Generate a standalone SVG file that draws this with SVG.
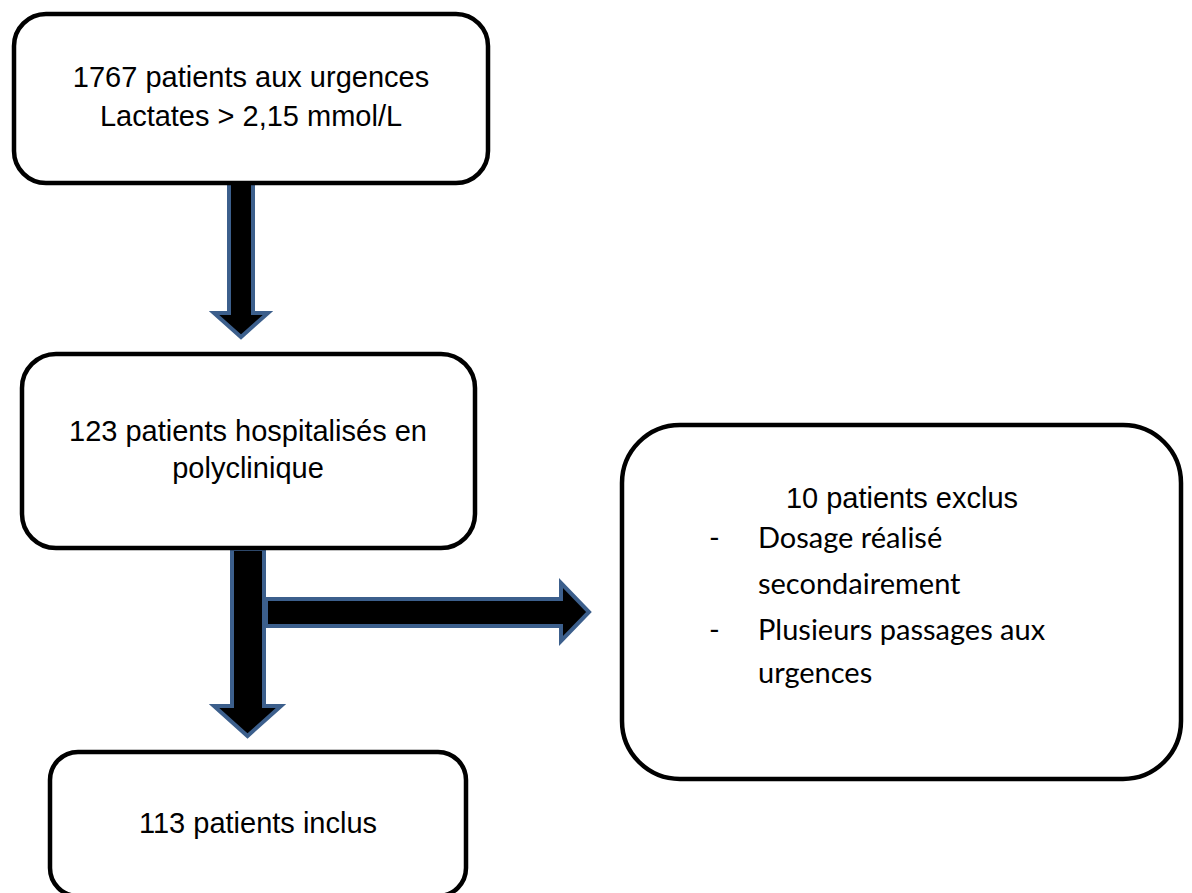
<svg xmlns="http://www.w3.org/2000/svg" width="1192" height="893" viewBox="0 0 1192 893">
<style>
.box{fill:#fff;stroke:#000;stroke-width:4.5}
.arr{fill:#000;stroke:#3C5F8C;stroke-width:4;stroke-linejoin:miter}
.t{font-family:"Liberation Sans",Arial,sans-serif;font-size:29px;fill:#000}
.c{font-family:Lato,"Open Sans",sans-serif;font-size:29px;fill:#000}
</style>
<rect width="1192" height="893" fill="#fff"/>
<g id="connectors">
<path class="arr" d="M229,183 H253 V313 H268 L241,337 L214,313 H229 Z"/>
<path class="arr" d="M266,599 H561 V583 L589,612 L561,641 V626 H266 Z"/>
<path class="arr" d="M232,549 H264 V706 H281 L247.5,736 L214,706 H232 Z"/>
</g>
<g id="n1">
<rect class="box" x="14" y="14" width="474" height="169" rx="32"/>
<text class="t" x="251" y="87" text-anchor="middle">1767 patients aux urgences</text>
<text class="t" x="251" y="126" text-anchor="middle">Lactates &gt; 2,15 mmol/L</text>
</g>
<g id="n2">
<rect class="box" x="22" y="354" width="453" height="194" rx="34"/>
<text class="t" x="248" y="441" text-anchor="middle">123 patients hospitalisés en</text>
<text class="t" x="248" y="478" text-anchor="middle">polyclinique</text>
</g>
<g id="n3">
<rect class="box" x="50" y="752" width="416" height="144" rx="28"/>
<text class="t" x="258" y="833" text-anchor="middle">113 patients inclus</text>
</g>
<g id="n4">
<rect class="box" x="622" y="425" width="559" height="354" rx="58"/>
<text class="t" x="902" y="508" text-anchor="middle">10 patients exclus</text>
<text class="c" x="709" y="548">-</text>
<text class="c" x="758" y="548">Dosage réalisé</text>
<text class="c" x="758" y="594">secondairement</text>
<text class="c" x="709" y="640">-</text>
<text class="c" x="758" y="640">Plusieurs passages aux</text>
<text class="c" x="758" y="683">urgences</text>
</g>
</svg>
